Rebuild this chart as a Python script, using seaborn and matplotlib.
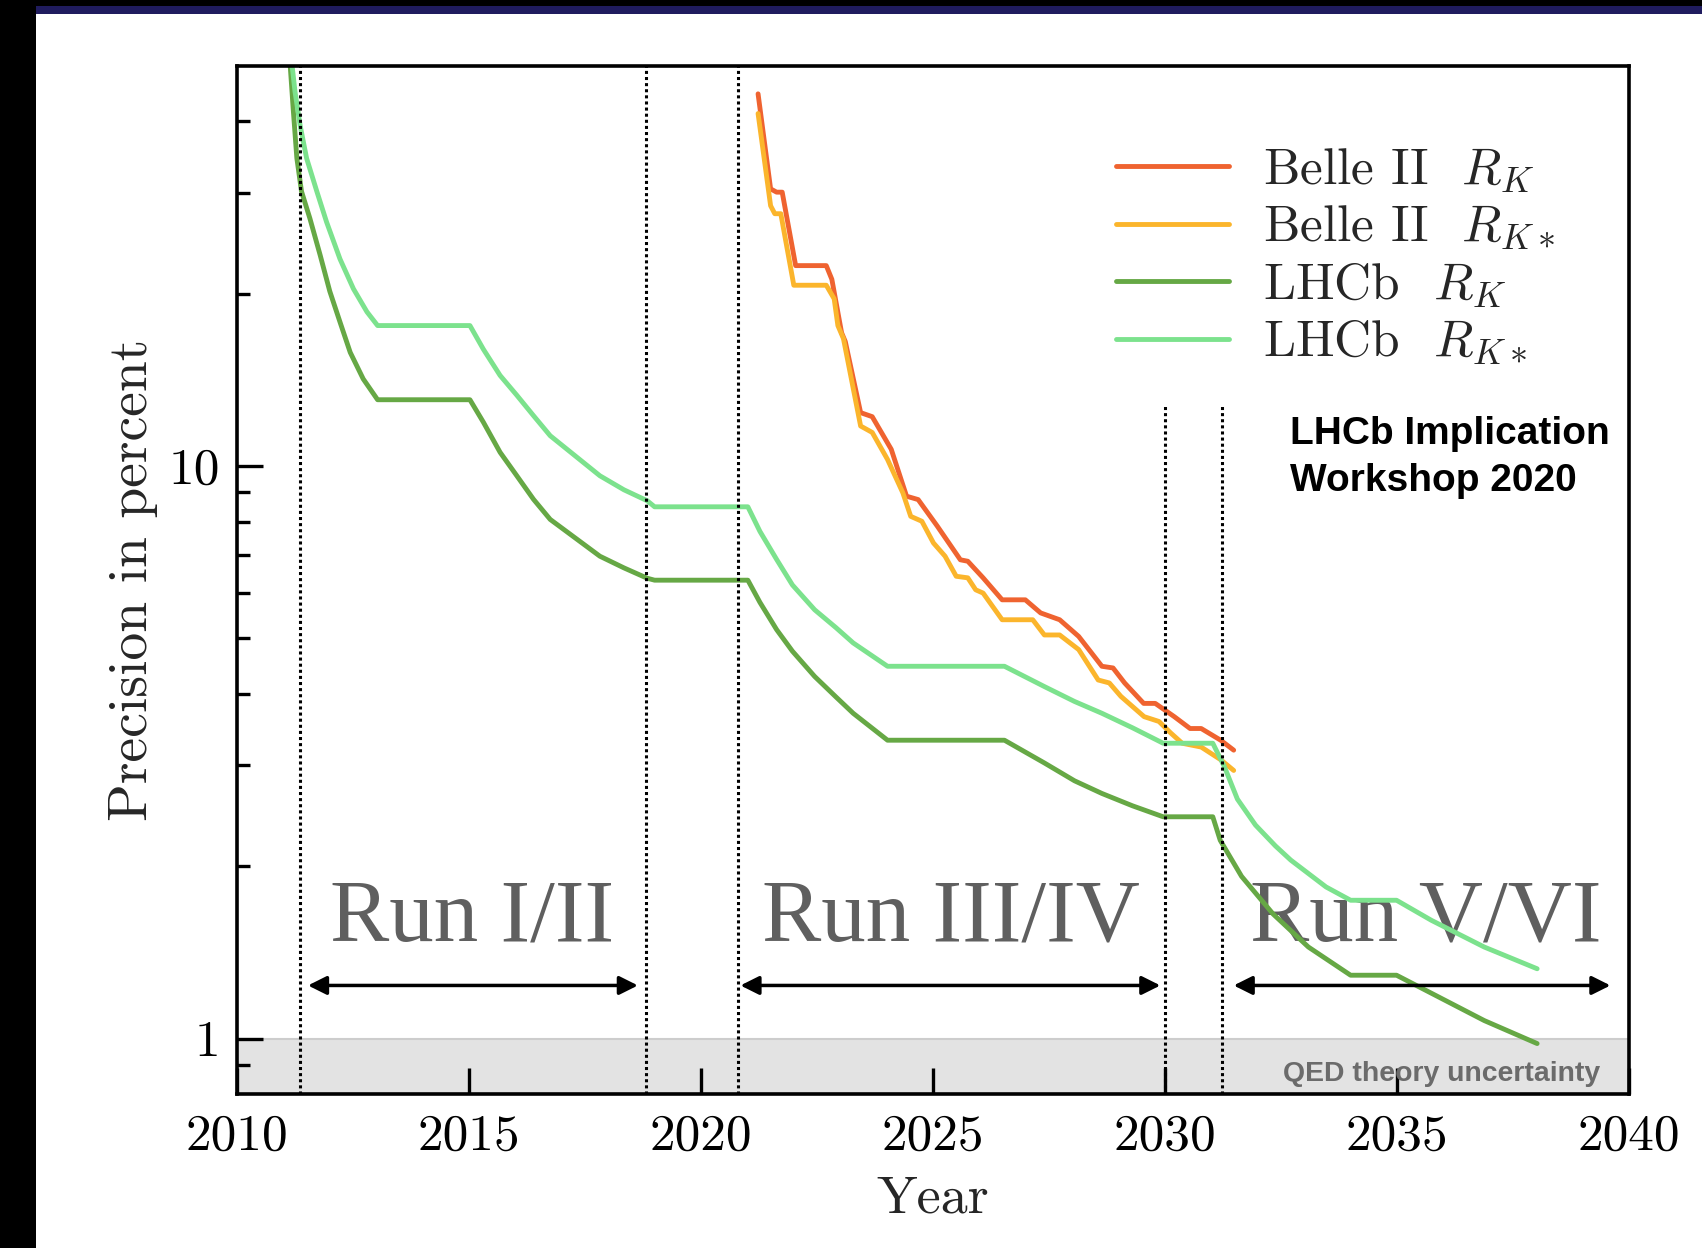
import numpy as np
import pandas as pd
import matplotlib
matplotlib.use("Agg")
import matplotlib.pyplot as plt
import seaborn as sns
from matplotlib.patches import Rectangle
from matplotlib.ticker import FixedLocator, FixedFormatter, NullFormatter

# ---------------- data ----------------
belle_rk_year = [2021.23, 2021.50, 2021.63, 2021.75, 2022.04, 2022.70, 2022.82, 2023.03, 2023.11,
                 2023.44, 2023.69, 2024.10, 2024.43, 2024.68, 2025.09, 2025.59, 2025.75, 2026.08,
                 2026.49, 2026.99, 2027.32, 2027.73, 2028.14, 2028.64, 2028.88, 2029.13, 2029.54,
                 2029.79, 2030.20, 2030.54, 2030.78, 2031.20, 2031.48]
belle_rk_val = [44.7, 30.5, 30.1, 30.1, 22.4, 22.4, 21.2, 17.1, 16.5,
                12.4, 12.2, 10.7, 8.86, 8.74, 7.86, 6.86, 6.82, 6.38,
                5.84, 5.84, 5.54, 5.39, 5.04, 4.47, 4.44, 4.18, 3.85,
                3.85, 3.65, 3.48, 3.48, 3.32, 3.19]

belle_rks_year = [2021.23, 2021.50, 2021.59, 2021.72, 2022.00, 2022.70, 2022.87, 2022.95, 2023.07,
                  2023.44, 2023.69, 2024.02, 2024.35, 2024.52, 2024.76, 2025.01, 2025.26, 2025.50,
                  2025.75, 2025.92, 2026.08, 2026.49, 2027.15, 2027.40, 2027.73, 2028.14, 2028.56,
                  2028.80, 2029.05, 2029.55, 2029.87, 2030.12, 2030.37, 2030.78, 2031.20, 2031.48]
belle_rks_val = [41.3, 28.5, 27.6, 27.6, 20.7, 20.7, 19.6, 17.6, 16.7,
                 11.75, 11.45, 10.27, 8.98, 8.17, 8.01, 7.34, 6.96, 6.42,
                 6.38, 6.08, 6.00, 5.39, 5.39, 5.07, 5.07, 4.78, 4.23,
                 4.18, 3.96, 3.65, 3.58, 3.42, 3.28, 3.23, 3.07, 2.94]

lhcb_rk_year = [2011.08, 2011.21, 2011.29, 2011.39, 2011.57, 2011.79, 2012.00, 2012.22, 2012.44,
                2012.72, 2013.03, 2015.02, 2015.31, 2015.67, 2016.03, 2016.39, 2016.75, 2017.82,
                2018.34, 2018.84, 2019.00, 2021.01, 2021.27, 2021.63, 2021.97, 2022.45, 2022.91,
                2023.28, 2024.02, 2026.54, 2027.40, 2028.05, 2028.64, 2029.30, 2029.96, 2031.03,
                2031.19, 2031.65, 2032.33, 2033.09, 2034.00, 2034.99, 2035.74, 2036.88, 2038.02]
lhcb_rk_val = [60.0, 42.2, 34.5, 30.2, 27.1, 23.4, 20.2, 17.85, 15.8,
               14.2, 13.06, 13.06, 11.93, 10.57, 9.62, 8.75, 8.07, 6.96,
               6.64, 6.37, 6.32, 6.32, 5.78, 5.18, 4.75, 4.29, 3.95,
               3.70, 3.32, 3.32, 3.03, 2.82, 2.68, 2.55, 2.44, 2.44,
               2.22, 1.92, 1.65, 1.445, 1.29, 1.29, 1.20, 1.075, 0.98]

lhcb_rks_year = [2011.10, 2011.25, 2011.36, 2011.50, 2011.72, 2011.93, 2012.22, 2012.51, 2012.80,
                 2013.03, 2015.02, 2015.31, 2015.67, 2016.03, 2016.39, 2016.75, 2017.82, 2018.34,
                 2018.84, 2019.00, 2021.01, 2021.27, 2021.63, 2021.97, 2022.45, 2022.91, 2023.28,
                 2024.02, 2026.54, 2027.40, 2028.05, 2028.64, 2029.30, 2029.96, 2031.03, 2031.28,
                 2031.56, 2031.95, 2032.38, 2032.71, 2033.47, 2034.00, 2034.99, 2035.74, 2036.88,
                 2038.02]
lhcb_rks_val = [58.0, 45.1, 39.4, 34.5, 30.2, 26.7, 23.0, 20.4, 18.6,
                17.6, 17.6, 16.0, 14.4, 13.3, 12.25, 11.3, 9.62, 9.09,
                8.70, 8.49, 8.49, 7.69, 6.87, 6.20, 5.61, 5.22, 4.91,
                4.47, 4.47, 4.12, 3.88, 3.70, 3.49, 3.28, 3.28, 2.985,
                2.62, 2.36, 2.17, 2.05, 1.84, 1.744, 1.744, 1.609, 1.445,
                1.324]

series_labels = [r"Belle II  $R_K$", r"Belle II  $R_{K*}$", r"LHCb  $R_K$", r"LHCb  $R_{K*}$"]
series_colors = ["#ef6330", "#fbb52c", "#66a845", "#7ce28d"]

run_boundaries = [2011.35, 2018.81, 2020.79, 2030.0, 2031.22]
run_labels = ["Run I/II", "Run III/IV", "Run V/VI"]
run_label_x = [2015.06, 2025.39, 2035.61]
run_arrows = [(2011.53, 2018.64), (2020.85, 2029.9), (2031.48, 2039.6)]

x_ticks = [2010, 2015, 2020, 2025, 2030, 2035, 2040]
y_ticks = [1, 10]
y_minor = [0.9, 2, 3, 4, 5, 6, 7, 8, 9, 20, 30, 40]

# ---------------- style ----------------
sns.set_style("white")
plt.rcParams["font.family"] = "serif"
plt.rcParams["font.serif"] = ["cmr10", "DejaVu Serif"]
plt.rcParams["mathtext.fontset"] = "cm"
plt.rcParams["axes.unicode_minus"] = False
plt.rcParams["axes.formatter.use_mathtext"] = True

fig = plt.figure(figsize=(17.02, 12.48), dpi=100)
fig.patch.set_facecolor("white")

# frame decorations (screenshot border)
fig.patches.append(Rectangle((0, 1 - 13.5 / 1248), 1, 8 / 1248, transform=fig.transFigure,
                             facecolor="#201c5e", edgecolor="none", zorder=0))
fig.patches.append(Rectangle((0, 1 - 5.8 / 1248), 1, 5.8 / 1248, transform=fig.transFigure,
                             facecolor="black", edgecolor="none", zorder=0))
fig.patches.append(Rectangle((0, 0), 36 / 1702, 1, transform=fig.transFigure,
                             facecolor="black", edgecolor="none", zorder=1))

ax = fig.add_axes([237 / 1702, (1248 - 1094) / 1248, 1392 / 1702, 1028 / 1248])

data = [(belle_rk_year, belle_rk_val), (belle_rks_year, belle_rks_val),
        (lhcb_rk_year, lhcb_rk_val), (lhcb_rks_year, lhcb_rks_val)]
for (xs, ys), lab, col in zip(data, series_labels, series_colors):
    df = pd.DataFrame({"Year": xs, "Precision": ys})
    sns.lineplot(data=df, x="Year", y="Precision", ax=ax, color=col, lw=3.5,
                 label=lab, sort=False, estimator=None, zorder=2)

ax.set_yscale("log")
ax.set_xlim(2010, 2040)
ax.set_ylim(0.8, 50)

# QED band
ax.axhspan(0.8, 1.0, color="#e3e3e3", zorder=0, lw=0)
ax.axhline(1.0, color="#cdcdcd", lw=1.5, zorder=0.5)

# run boundaries
for i, xb in enumerate(run_boundaries):
    top = 1.0 if i < 3 else 0.671
    ax.axvline(xb, ymin=0, ymax=top, color="black", lw=2.2, ls=(0, (1, 1)), zorder=3)

# run labels and arrows
for xc, txt in zip(run_label_x, run_labels):
    ax.text(xc, 1.485, txt, ha="center", va="baseline", fontsize=64,
            family="Liberation Serif", color="#5f5f5f", zorder=1.5)
for x0, x1 in run_arrows:
    ax.annotate("", xy=(x1, 1.238), xytext=(x0, 1.238),
                arrowprops=dict(arrowstyle="<|-|>", color="black", lw=2.5,
                                mutation_scale=28, shrinkA=0, shrinkB=0), zorder=4)

ax.text(2032.55, 0.844, "QED theory uncertainty", ha="left", va="baseline",
        fontsize=20.4, family="Liberation Sans", fontweight="bold", color="#6b6b6b", zorder=1)
ax.text(2032.69, 10.93, "LHCb Implication", ha="left", va="baseline",
        fontsize=28, family="Liberation Sans", fontweight="bold", color="black")
ax.text(2032.69, 9.04, "Workshop 2020", ha="left", va="baseline",
        fontsize=28, family="Liberation Sans", fontweight="bold", color="black")

# ticks
ax.xaxis.set_major_locator(FixedLocator(x_ticks))
ax.xaxis.set_major_formatter(FixedFormatter([str(t) for t in x_ticks]))
ax.yaxis.set_major_locator(FixedLocator(y_ticks))
ax.yaxis.set_major_formatter(FixedFormatter([str(t) for t in y_ticks]))
ax.yaxis.set_minor_locator(FixedLocator(y_minor))
ax.yaxis.set_minor_formatter(NullFormatter())
ax.xaxis.set_minor_locator(FixedLocator([]))
ax.tick_params(which="both", bottom=True, left=True, top=False, right=False)
ax.tick_params(axis="both", which="major", direction="in", length=19, width=2.4,
               labelsize=37, color="black", labelcolor="black")
ax.tick_params(axis="x", which="major", pad=14)
ax.tick_params(axis="y", which="major", pad=12)
ax.tick_params(axis="y", which="minor", direction="in", length=9.5, width=2.4, color="black")

for s in ax.spines.values():
    s.set_linewidth(2.6)
    s.set_color("black")

ax.set_xlabel("Year", fontsize=39, labelpad=12)
ax.set_ylabel("Precision in percent", fontsize=40, labelpad=8)

leg = ax.legend(loc="upper left", bbox_to_anchor=(0.6315, 0.922), frameon=False,
                fontsize=37, handlelength=2.2, handletextpad=0.65, labelspacing=0.17,
                borderpad=0, borderaxespad=0)

fig.savefig("out.png", dpi=100, facecolor="white")
